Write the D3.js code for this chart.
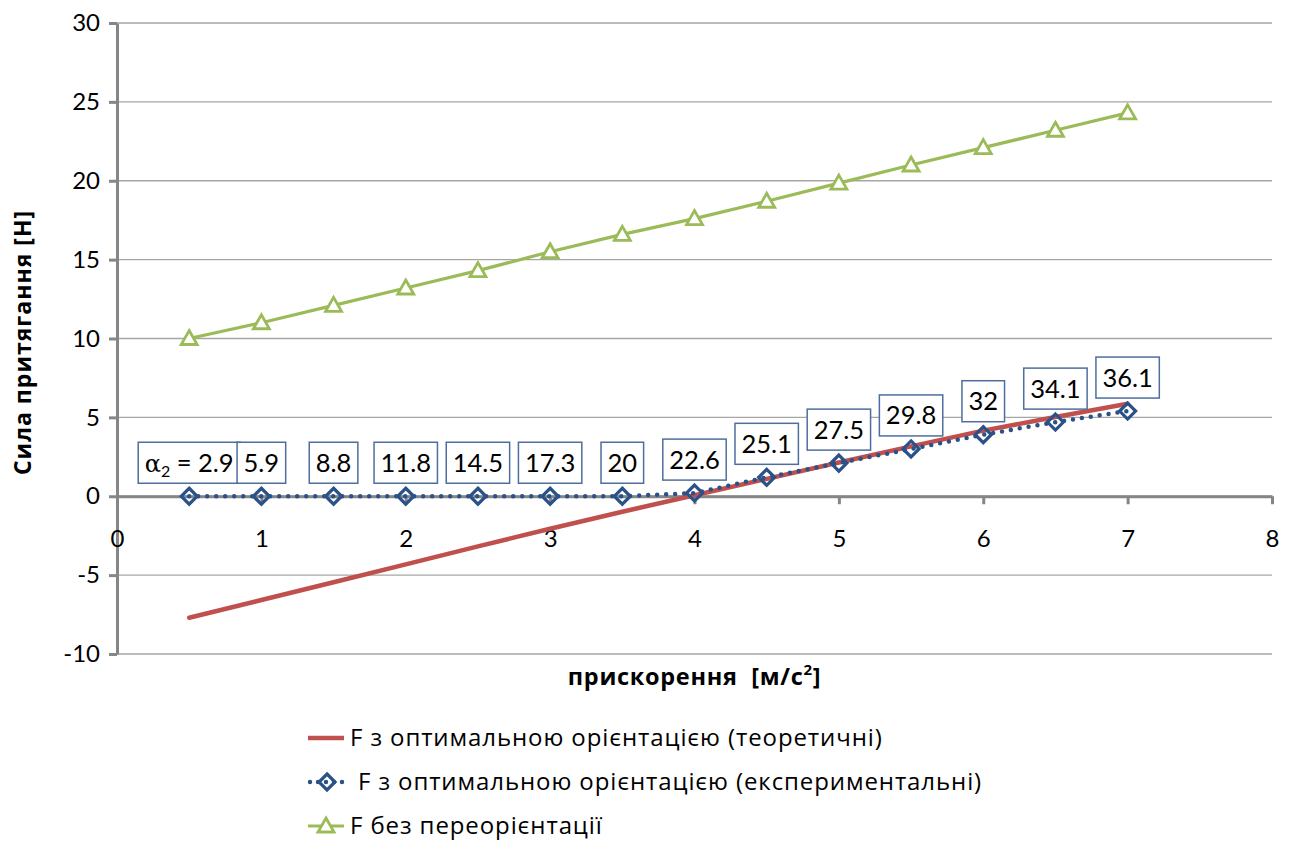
<!DOCTYPE html>
<html>
<head>
<meta charset="utf-8">
<script src="https://cdn.jsdelivr.net/npm/d3@7"></script>
<style>
  html, body { margin: 0; padding: 0; background: #fff; }
  svg { display: block; font-family: Lato, "Open Sans", sans-serif; }
  .cyr { font-family: "Open Sans", sans-serif; white-space: pre; }
</style>
</head>
<body>
<svg id="chart" width="1295" height="842"></svg>
<script>
// Acceleration values (m/s²)
const acceleration = [0.5, 1, 1.5, 2, 2.5, 3, 3.5, 4, 4.5, 5, 5.5, 6, 6.5, 7];
// Attraction force with optimal orientation, theoretical (N)
const forceTheoretical = [-7.7, -6.58, -5.45, -4.32, -3.18, -2.06, -0.98, 0.06, 1.1, 2.14, 3.16, 4.16, 5.02, 5.86];
// Attraction force with optimal orientation, experimental (N)
const forceExperimental = [0, 0, 0, 0, 0, 0, 0, 0.2, 1.2, 2.1, 3.0, 3.9, 4.7, 5.4];
// Attraction force without reorientation (N)
const forceNoReorient = [10.0, 11.0, 12.1, 13.2, 14.3, 15.5, 16.6, 17.6, 18.7, 19.85, 21.0, 22.1, 23.2, 24.3];
// Orientation angle alpha2 at each experimental point
const alpha2 = [2.9, 5.9, 8.8, 11.8, 14.5, 17.3, 20, 22.6, 25.1, 27.5, 29.8, 32, 34.1, 36.1];

const xTicks = [0, 1, 2, 3, 4, 5, 6, 7, 8];
const yTicks = [-10, -5, 0, 5, 10, 15, 20, 25, 30];

const seriesNames = [
  "F з оптимальною орієнтацією (теоретичні)",
  "F з оптимальною орієнтацією (експериментальні)",
  "F без переорієнтації"
];
const xTitle = "прискорення  [м/с";
const yTitle = "Сила притягання [Н]";

const RED = "#C0504D", BLUE = "#2B5288", GREEN = "#9BBB59";
const AXIS = "#868686", GRID = "#A6A6A6";

const svg = d3.select("#chart");
const x = d3.scaleLinear().domain([0, 8]).range([117, 1272]);
const y = d3.scaleLinear().domain([-10, 30]).range([654, 23]);
const plain = d => String(d);

// horizontal gridlines
svg.append("g").selectAll("line").data(yTicks).join("line")
  .attr("x1", x(0)).attr("x2", x(8))
  .attr("y1", d => y(d)).attr("y2", d => y(d))
  .attr("stroke", GRID).attr("stroke-width", 1.3);

// y axis
const yAxis = svg.append("g").attr("transform", `translate(${x(0)},0)`)
  .call(d3.axisLeft(y).tickValues(yTicks).tickFormat(plain).tickSize(8).tickSizeOuter(0).tickPadding(9));
yAxis.select(".domain").attr("stroke", AXIS).attr("stroke-width", 3);
yAxis.selectAll(".tick line").attr("stroke", AXIS).attr("stroke-width", 3);
yAxis.selectAll(".tick text").attr("font-size", 24).attr("fill", "#000")
  .attr("font-family", "Lato");

// x axis crossing at zero
const xAxis = svg.append("g").attr("transform", `translate(0,${y(0)})`)
  .call(d3.axisBottom(x).tickValues(xTicks).tickFormat(plain).tickSize(8).tickSizeOuter(0).tickPadding(0));
xAxis.select(".domain").attr("stroke", AXIS).attr("stroke-width", 3);
xAxis.selectAll(".tick line").attr("stroke", AXIS).attr("stroke-width", 3)
  .attr("display", d => d === 0 ? "none" : null);
xAxis.selectAll(".tick text").attr("font-size", 24).attr("fill", "#000")
  .attr("font-family", "Lato").attr("y", 34);

// axis titles
const xt = svg.append("text").attr("class", "cyr")
  .attr("x", (x(0) + x(8)) / 2).attr("y", 685)
  .attr("text-anchor", "middle").attr("font-size", 23.5).attr("font-weight", "bold")
  .attr("letter-spacing", 0.7);
xt.append("tspan").text(xTitle);
xt.append("tspan").attr("font-size", 15).attr("dy", -10).text("2");
xt.append("tspan").attr("dy", 10).text("]");

svg.append("text").attr("class", "cyr")
  .attr("transform", `translate(31,${(y(-10) + y(30)) / 2 + 4}) rotate(-90)`)
  .attr("text-anchor", "middle").attr("font-size", 23).attr("font-weight", "bold")
  .attr("letter-spacing", 1)
  .text(yTitle);

const pts = s => acceleration.map((a, i) => [a, s[i]]);
const line = d3.line().x(d => x(d[0])).y(d => y(d[1]));

// theoretical line
svg.append("path").attr("d", line(pts(forceTheoretical)))
  .attr("fill", "none").attr("stroke", RED).attr("stroke-width", 4.5)
  .attr("stroke-linecap", "round").attr("stroke-linejoin", "round");

// without reorientation
svg.append("path").attr("d", line(pts(forceNoReorient)))
  .attr("fill", "none").attr("stroke", GREEN).attr("stroke-width", 3.2);

// experimental dotted line
svg.append("path").attr("d", line(pts(forceExperimental)))
  .attr("fill", "none").attr("stroke", BLUE).attr("stroke-width", 4.5)
  .attr("stroke-linecap", "round").attr("stroke-dasharray", "0 9");

const diamond = "M0,-8L8,0L0,8L-8,0Z";
const triangle = "M0,-8L8,6L-8,6Z";

svg.append("g").selectAll("path").data(pts(forceNoReorient)).join("path")
  .attr("d", triangle)
  .attr("transform", d => `translate(${x(d[0])},${y(d[1])})`)
  .attr("fill", "#fff").attr("stroke", GREEN).attr("stroke-width", 2.8);

svg.append("g").selectAll("path").data(pts(forceExperimental)).join("path")
  .attr("d", diamond)
  .attr("transform", d => `translate(${x(d[0])},${y(d[1])})`)
  .attr("fill", "none").attr("stroke", BLUE).attr("stroke-width", 3.2);

// alpha2 labels in boxes above the experimental points
const labels = svg.append("g");
acceleration.forEach((a, i) => {
  const cx = x(a), py = y(forceExperimental[i]);
  const boxBottom = py - 13, boxH = 41;
  const g = labels.append("g");
  const rect = g.append("rect");
  const t = g.append("text").attr("x", cx).attr("y", boxBottom - boxH / 2 + 9)
    .attr("text-anchor", "middle").attr("font-size", 25.5).attr("fill", "#000");
  if (i === 0) {
    t.append("tspan").attr("font-family", "DejaVu Serif").attr("font-size", 24).text("α");
    t.append("tspan").attr("font-size", 16).attr("dy", 5).text("2");
    t.append("tspan").attr("dy", -5).text(" = " + alpha2[i]);
  } else {
    t.text(alpha2[i]);
  }
  const w = t.node().getComputedTextLength() + 13;
  rect.attr("x", cx - w / 2).attr("y", boxBottom - boxH).attr("width", w).attr("height", boxH)
    .attr("fill", "#fff").attr("stroke", "#4F6E9E").attr("stroke-width", 1.5);
});

// legend
const legend = svg.append("g");
const rows = [738, 782, 826];
legend.append("line").attr("x1", 308).attr("x2", 344).attr("y1", rows[0]).attr("y2", rows[0])
  .attr("stroke", RED).attr("stroke-width", 4.5);
legend.append("line").attr("x1", 310).attr("x2", 344).attr("y1", rows[1]).attr("y2", rows[1])
  .attr("stroke", BLUE).attr("stroke-width", 4.5).attr("stroke-linecap", "round")
  .attr("stroke-dasharray", "0 8");
legend.append("path").attr("d", diamond).attr("transform", `translate(327,${rows[1]})`)
  .attr("fill", "none").attr("stroke", BLUE).attr("stroke-width", 3.2);
legend.append("line").attr("x1", 308).attr("x2", 344).attr("y1", rows[2]).attr("y2", rows[2])
  .attr("stroke", GREEN).attr("stroke-width", 3.2);
legend.append("path").attr("d", triangle).attr("transform", `translate(326,${rows[2]})`)
  .attr("fill", "#fff").attr("stroke", GREEN).attr("stroke-width", 2.8);
const textX = [350, 358, 350];
seriesNames.forEach((name, i) => {
  legend.append("text").attr("class", "cyr").attr("x", textX[i]).attr("y", rows[i] + 8)
    .attr("font-size", 24).attr("letter-spacing", 0.9).attr("fill", "#000").text(name);
});
</script>
</body>
</html>
